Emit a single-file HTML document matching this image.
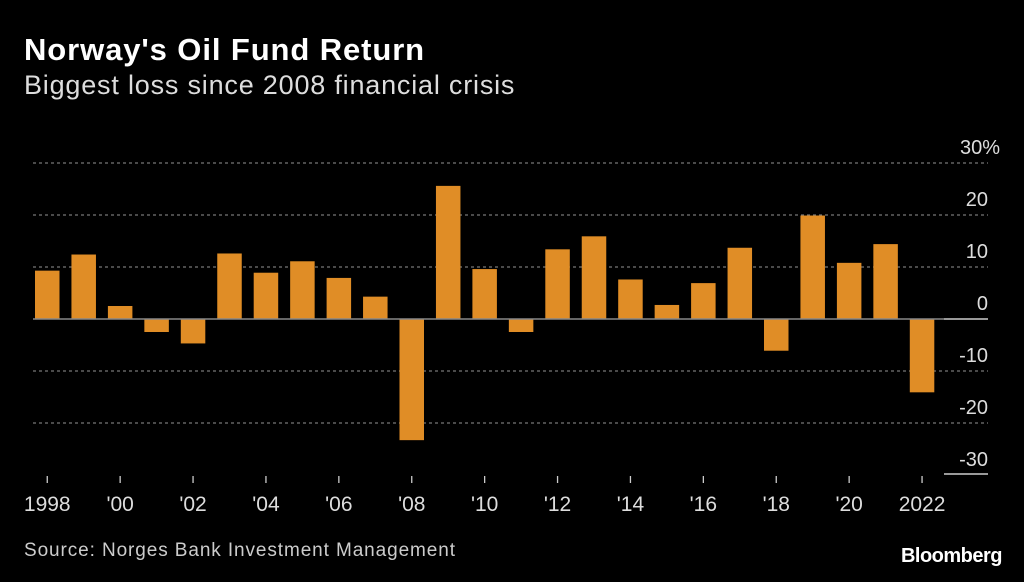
<!DOCTYPE html>
<html><head><meta charset="utf-8"><style>
body{margin:0;background:#000;width:1024px;height:582px;overflow:hidden;font-family:"Liberation Sans",sans-serif;color:#fff}
#title{position:absolute;left:24px;top:32px;font-size:31px;font-weight:bold;letter-spacing:0.9px}
#sub{position:absolute;left:24px;top:70px;font-size:27px;color:#ddd;letter-spacing:0.8px}
#src{position:absolute;left:24px;top:540px;font-size:19px;color:#ccc;letter-spacing:0.9px}
#logo{position:absolute;right:22px;top:545px;font-size:20px;font-weight:bold;letter-spacing:-0.5px}
svg{position:absolute;left:0;top:0}
</style></head><body>
<div id="title">Norway's Oil Fund Return</div>
<div id="sub">Biggest loss since 2008 financial crisis</div>
<svg id="chart" width="1024" height="582"></svg>
<div id="src">Source: Norges Bank Investment Management</div>
<div id="logo">Bloomberg</div>
<script>
const years=[1998,1999,2000,2001,2002,2003,2004,2005,2006,2007,2008,2009,2010,2011,2012,2013,2014,2015,2016,2017,2018,2019,2020,2021,2022];
const returns=[9.3,12.4,2.5,-2.5,-4.7,12.6,8.9,11.1,7.9,4.3,-23.3,25.6,9.6,-2.5,13.4,15.9,7.6,2.7,6.9,13.7,-6.1,19.9,10.8,14.4,-14.1];
const yTicks=[30,20,10,0,-10,-20,-30];
const yTickLabels=["30%","20","10","0","-10","-20","-30"];
const xLabels={1998:"1998",2000:"'00",2002:"'02",2004:"'04",2006:"'06",2008:"'08",2010:"'10",2012:"'12",2014:"'14",2016:"'16",2018:"'18",2020:"'20",2022:"2022"};
const NS="http://www.w3.org/2000/svg",svg=document.getElementById('chart');
const y=v=>319-v*5.2;
const x=i=>35+i*36.45;
const bw=24.5;
function mk(t,a){const e=document.createElementNS(NS,t);for(const k in a)e.setAttribute(k,a[k]);svg.appendChild(e);return e;}
yTicks.forEach((v,i)=>{
  if(v!==0&&v!==-30){const g=mk('line',{x1:33,x2:988,y1:y(v),y2:y(v),stroke:'#777','stroke-width':1.3,'stroke-dasharray':'3,3'});
  
  }
  const t=mk('text',{x:v===30?1000:988,y:y(v)-9,'text-anchor':'end',fill:'#ddd','font-size':20,'font-family':'Liberation Sans, sans-serif'});
  t.textContent=yTickLabels[i];
  
  
});
years.forEach((yr,i)=>{
  const v=returns[i];
  const r=mk('rect',{x:x(i),width:bw,y:Math.min(y(v),y(0)),height:Math.abs(y(v)-y(0)),fill:'#e08d26'});
  
  
  if(xLabels[yr]){
    const cx=x(i)+bw/2;
    const tk=mk('line',{x1:cx,x2:cx,y1:476,y2:483,stroke:'#ccc','stroke-width':1.3});
    
    
    const t=mk('text',{x:cx,y:511,'text-anchor':'middle',fill:'#ddd','font-size':21,'font-family':'Liberation Sans, sans-serif'});
    t.textContent=xLabels[yr];
    
    
  }
});
const z=mk('line',{x1:33,x2:944,y1:y(0),y2:y(0),stroke:'#888','stroke-width':1.5});


const z2=mk('line',{x1:944,x2:988,y1:y(0),y2:y(0),stroke:'#ccc','stroke-width':1.5});


const b=mk('line',{x1:944,x2:988,y1:474,y2:474,stroke:'#ccc','stroke-width':1.5});


</script>
</body></html>
